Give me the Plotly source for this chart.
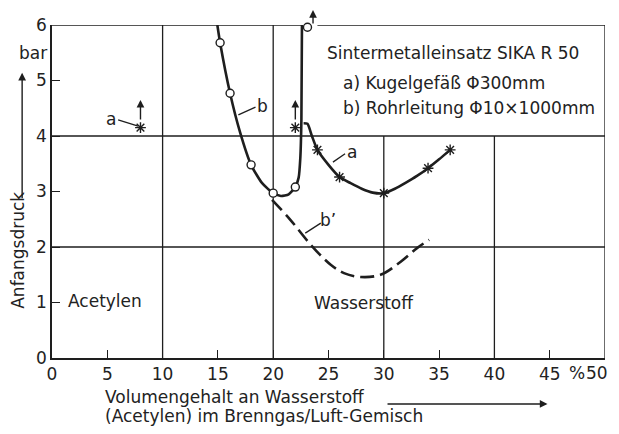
import plotly.graph_objects as go

# curve b (Rohrleitung), solid line and measured points
b_x = [14.95, 15.2, 16.1, 17.0, 18.0, 19.0, 20.0, 20.7, 21.4, 22.0, 22.3, 22.45, 22.55, 22.6]
b_y = [6.0, 5.68, 4.77, 4.07, 3.48, 3.15, 2.97, 2.92, 2.95, 3.08, 3.25, 3.6, 4.3, 6.0]
b_pts_x = [15.2, 16.1, 18.0, 20.0, 22.0, 23.1]
b_pts_y = [5.68, 4.77, 3.48, 2.97, 3.08, 5.96]

# curve a (Kugelgefaess)
a_x = [22.75, 23.1, 23.5, 24.0, 25.0, 26.0, 27.0, 28.0, 29.0, 30.0, 31.0, 32.0, 33.0, 34.0, 35.0, 36.0]
a_y = [4.23, 4.22, 4.0, 3.75, 3.48, 3.26, 3.15, 3.05, 2.98, 2.97, 3.05, 3.16, 3.28, 3.42, 3.58, 3.75]
a_pts_x = [24.0, 26.0, 30.0, 34.0, 36.0]
a_pts_y = [3.75, 3.26, 2.97, 3.42, 3.75]
# single points "higher than" (with arrow)
up_x = [8.0, 22.0]
up_y = [4.15, 4.15]

# curve b' dashed
bb_x = [19.9, 21.55, 23.4, 25.2, 26.4, 27.9, 29.7, 31.5, 33.0, 34.1]
bb_y = [2.85, 2.49, 2.04, 1.68, 1.53, 1.46, 1.50, 1.73, 1.98, 2.13]

x_ticks = [0, 5, 10, 15, 20, 25, 30, 35, 40, 45, 50]
x_ticktext = ["0", "5", "10", "15", "20", "25", "30", "35", "40", "45", ""]  # "50" placed separately
y_ticks = [0, 1, 2, 3, 4, 5, 6]

ink = "#1e1e1e"
fnt = dict(family="DejaVu Sans", size=17, color="#222")

fig = go.Figure()

# grid, as in the drawing (partly hidden by the text box)
grid = [(10, 0, 10, 6), (20, 0, 20, 6), (30, 0, 30, 4), (40, 0, 40, 4),
        (0, 2, 50, 2), (0, 4, 50, 4), (50, 0, 50, 6), (0, 6, 22.6, 6), (24.0, 6, 50, 6)]
for x0, y0, x1, y1 in grid:
    fig.add_shape(type="line", x0=x0, y0=y0, x1=x1, y1=y1, layer="below",
                  line=dict(color=ink, width=1.3))

fig.add_trace(go.Scatter(x=b_x, y=b_y, mode="lines", line=dict(color=ink, width=2.6, shape="spline", smoothing=0.6)))
fig.add_trace(go.Scatter(x=a_x, y=a_y, mode="lines", line=dict(color=ink, width=2.6, shape="spline", smoothing=0.6)))
fig.add_trace(go.Scatter(x=bb_x, y=bb_y, mode="lines", line=dict(color=ink, width=2.6, shape="spline", dash="14px,6px")))
fig.add_trace(go.Scatter(x=b_pts_x, y=b_pts_y, mode="markers", cliponaxis=False,
                         marker=dict(symbol="circle", size=8, color="white", line=dict(color=ink, width=1.4))))
fig.add_trace(go.Scatter(x=a_pts_x + up_x, y=a_pts_y + up_y, mode="markers",
                         marker=dict(symbol="asterisk-open", size=9, color=ink, line=dict(color=ink, width=1.4))))

# leader lines for the curve labels
leaders = [([5.98, 7.79], [4.29, 4.18]), ([16.85, 18.4], [4.38, 4.52]),
           ([25.4, 26.5], [3.53, 3.68]), ([22.9, 24.3], [2.25, 2.43])]
for lx, ly in leaders:
    fig.add_trace(go.Scatter(x=lx, y=ly, mode="lines", line=dict(color=ink, width=1.3)))

labels = [(5.3, 4.31, "a"), (19.0, 4.54, "b"), (27.1, 3.71, "a"), (24.95, 2.49, "b’")]
for tx, ty, t in labels:
    fig.add_annotation(x=tx, y=ty, text=t, showarrow=False, font=fnt)

# arrows "pressure higher"
for ux, uy in zip(up_x, up_y):
    fig.add_annotation(x=ux, y=uy + 0.5, ax=ux, ay=uy + 0.12, axref="x", ayref="y", text="",
                       showarrow=True, arrowhead=2, arrowsize=1.1, arrowwidth=1.4, arrowcolor=ink)
fig.add_annotation(x=23.6, y=1.045, xref="x", yref="paper", ax=0, ay=15, text="",
                   showarrow=True, arrowhead=2, arrowsize=1.1, arrowwidth=1.4, arrowcolor=ink)

# text box
fig.add_annotation(x=24.7, y=5.49, text="Sintermetalleinsatz SIKA R 50", xanchor="left", showarrow=False, font=fnt)
fig.add_annotation(x=26.1, y=4.95, text="a) Kugelgefäß Φ300mm", xanchor="left", showarrow=False, font=fnt)
fig.add_annotation(x=26.1, y=4.50, text="b) Rohrleitung Φ10×1000mm", xanchor="left", showarrow=False, font=fnt)

fig.add_annotation(x=4.8, y=1.02, text="Acetylen", showarrow=False, font=fnt)
fig.add_annotation(x=28.2, y=1.0, text="Wasserstoff", showarrow=False, font=fnt)

# axis texts
fig.add_annotation(x=0, y=5.5, xref="paper", xanchor="right", yanchor="middle", xshift=-3, text="bar",
                   showarrow=False, font=fnt)
fig.add_annotation(x=47.5, y=-0.045, yref="paper", yanchor="middle", text="%", showarrow=False, font=fnt)
fig.add_annotation(x=50, y=-0.045, yref="paper", xanchor="right", yanchor="middle", xshift=5, text="50",
                   showarrow=False, font=fnt)
fig.add_annotation(x=-0.0615, y=1.95, xref="paper", xanchor="center", yanchor="middle", text="Anfangsdruck",
                   textangle=-90, showarrow=False, font=fnt)
fig.add_annotation(x=-0.054, y=5.14, xref="paper", ax=0, ay=127, text="",
                   showarrow=True, arrowhead=2, arrowsize=1.1, arrowwidth=1.4, arrowcolor=ink)
fig.add_annotation(x=4.6, y=-0.117, yref="paper", xanchor="left", yanchor="middle",
                   text="Volumengehalt an Wasserstoff", showarrow=False, font=fnt)
fig.add_annotation(x=4.6, y=-0.174, yref="paper", xanchor="left", yanchor="middle",
                   text="(Acetylen) im Brenngas/Luft-Gemisch", showarrow=False, font=fnt)
fig.add_annotation(x=44.8, y=-0.138, yref="paper", ax=30.2, ay=0, axref="x", ayref="pixel", text="",
                   showarrow=True, arrowhead=2, arrowsize=1.1, arrowwidth=1.4, arrowcolor=ink)

fig.update_xaxes(range=[0, 50], tickvals=x_ticks, ticktext=x_ticktext, ticks="inside",
                 ticklen=8, tickwidth=1.3, tickcolor=ink, showgrid=False, zeroline=False,
                 showline=True, linecolor=ink, linewidth=1.5, tickfont=fnt)
fig.update_yaxes(range=[0, 6], tickvals=y_ticks, ticks="inside", ticklen=8, tickwidth=1.3, tickcolor=ink,
                 showgrid=False, zeroline=False, showline=True, linecolor=ink, linewidth=1.5, tickfont=fnt)
# the page body adds an 8px margin all round, so the figure is kept 16px smaller
fig.update_layout(width=603, height=418, margin=dict(l=44, r=6, t=17, b=68),
                  plot_bgcolor="white", paper_bgcolor="white", showlegend=False)

fig.write_html("out.html")
